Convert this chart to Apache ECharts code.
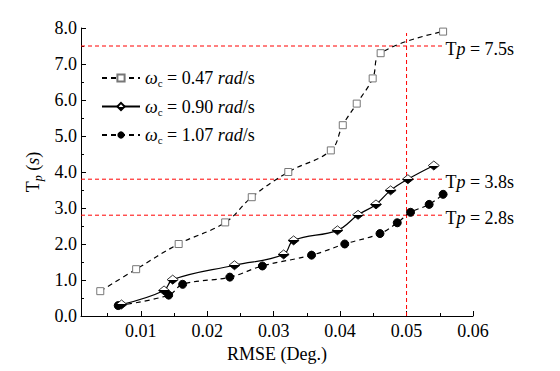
<!DOCTYPE html>
<html><head><meta charset="utf-8">
<script src="https://cdn.jsdelivr.net/npm/echarts@6/dist/echarts.min.js"></script>
<style>html,body{margin:0;padding:0;background:#fff;}#c{width:560px;height:371px;}</style>
</head><body><div id="c"></div>
<script>
// ---- data ----
const seriesNames = ['0.47', '0.90', '1.07'];
const rmse047 = [0.0039, 0.0093, 0.0157, 0.0227, 0.0267, 0.0322, 0.0386, 0.0404, 0.0425, 0.0449, 0.0461, 0.0555];
const tp047   = [0.69, 1.3, 2.0, 2.6, 3.3, 4.0, 4.6, 5.3, 5.9, 6.6, 7.3, 7.9];
const rmse090 = [0.0071, 0.0135, 0.0148, 0.0241, 0.0315, 0.0330, 0.0396, 0.0427, 0.0454, 0.0476, 0.0502, 0.0541];
const tp090   = [0.32, 0.71, 1.01, 1.41, 1.71, 2.1, 2.38, 2.81, 3.1, 3.49, 3.8, 4.18];
const rmse107 = [0.0066, 0.0142, 0.0163, 0.0234, 0.0283, 0.0357, 0.0407, 0.0460, 0.0486, 0.0506, 0.0534, 0.0555];
const tp107   = [0.29, 0.58, 0.88, 1.08, 1.39, 1.69, 2.0, 2.29, 2.59, 2.88, 3.1, 3.38];
const xTicks = [0.01, 0.02, 0.03, 0.04, 0.05, 0.06];
const xMinorTicks = [0.005, 0.015, 0.025, 0.035, 0.045, 0.055];
const refTp = [7.5, 3.8, 2.8];
const refRmse = 0.05;
const refLineEnd = 0.0554;
const refVTop = 7.86;
const xMin = 0.001, xMax = 0.06, yMin = 0, yMax = 8;

const FONT = 'Times New Roman, Liberation Serif, Times, serif';
const zip = (a, b) => a.map((v, i) => [v, b[i]]);

const legRich = {
  w: {fontFamily: FONT, fontSize: 18, fontStyle: 'italic', color: '#000'},
  sub: {fontFamily: FONT, fontSize: 11, color: '#000', verticalAlign: 'bottom', padding: [10, 0, 0, 0]},
  n: {fontFamily: FONT, fontSize: 18, color: '#000'},
  it: {fontFamily: FONT, fontSize: 18, fontStyle: 'italic', color: '#000'}
};
const tpRich = {
  n: {fontFamily: FONT, fontSize: 18, color: '#000'},
  it: {fontFamily: FONT, fontSize: 18, fontStyle: 'italic', color: '#000'}
};

const chart = echarts.init(document.getElementById('c'), null, {renderer: 'svg'});

const refLineStyle = {color: '#f00', width: 1, type: [4, 3]};
const refSeries = refTp.map(t => ({
  name: 'ref' + t, type: 'line', silent: true, symbol: 'none', z: 2,
  lineStyle: refLineStyle, itemStyle: {color: '#f00'},
  data: [[xMin, t], [refLineEnd, t]],
  endLabel: {
    show: true, distance: 3, offset: [0, 3],
    formatter: () => '{n|T}{it|p}{n| = ' + t + 's}', rich: tpRich
  }
}));
refSeries.push({
  name: 'refV', type: 'line', silent: true, symbol: 'none', z: 2,
  lineStyle: refLineStyle, data: [[refRmse, yMin], [refRmse, refVTop]]
});

const option = {
  animation: false,
  backgroundColor: '#fff',
  textStyle: {fontFamily: FONT},
  grid: {left: 81, right: 87, top: 28, bottom: 55},
  legend: {
    orient: 'vertical', left: 96, top: 64, itemWidth: 38, itemHeight: 9, itemGap: 9,
    data: seriesNames.map(n => 'w' + n),
    formatter: name => '{w|ω}{sub|c}{n| = ' + name.slice(1) + ' }{it|rad}{n|/s}',
    textStyle: {rich: legRich, fontFamily: FONT, fontSize: 18, color: '#000'}
  },
  xAxis: [{
    type: 'value', min: xMin, max: xMax,
    name: 'RMSE (Deg.)', nameLocation: 'middle', nameGap: 29,
    nameTextStyle: {fontFamily: FONT, fontSize: 18, color: '#000'},
    axisLine: {show: true, lineStyle: {color: '#000', width: 1}},
    axisTick: {show: true, inside: true, length: 5, customValues: xTicks, lineStyle: {color: '#000'}},
    axisLabel: {customValues: xTicks, formatter: v => v.toFixed(2), fontFamily: FONT, fontSize: 18, color: '#000', margin: 6},
    splitLine: {show: false}
  }, {
    type: 'value', min: xMin, max: xMax, position: 'bottom',
    axisLine: {show: false},
    axisTick: {show: true, inside: true, length: 3, customValues: xMinorTicks, lineStyle: {color: '#000'}},
    axisLabel: {show: false, customValues: xMinorTicks},
    splitLine: {show: false}
  }],
  yAxis: {
    type: 'value', min: yMin, max: yMax, interval: 1,
    name: '{n|T}{sub|p}{n| (}{it|s}{n|)}', nameLocation: 'middle', nameRotate: 90, nameGap: 34,
    nameTextStyle: {fontFamily: FONT, rich: {
      n: {fontFamily: FONT, fontSize: 18, color: '#000'},
      sub: {fontFamily: FONT, fontSize: 12, fontStyle: 'italic', color: '#000', verticalAlign: 'bottom', padding: [10, 0, 0, 0]},
      it: {fontFamily: FONT, fontSize: 18, fontStyle: 'italic', color: '#000'}
    }},
    axisLine: {show: true, lineStyle: {color: '#000', width: 1}},
    axisTick: {show: true, inside: true, length: 5, lineStyle: {color: '#000'}},
    minorTick: {show: true, splitNumber: 2, length: 3, lineStyle: {color: '#000'}},
    axisLabel: {formatter: v => v.toFixed(1), fontFamily: FONT, fontSize: 18, color: '#000', margin: 4},
    splitLine: {show: false}
  },
  series: [
    {
      name: 'w0.47', type: 'line', data: zip(rmse047, tp047), smooth: 0.4,
      symbol: 'rect', symbolSize: 7,
      lineStyle: {color: '#000', width: 1.2, type: [5, 4]},
      itemStyle: {color: '#fff', borderColor: '#777', borderWidth: 1},
      z: 3
    },
    {
      name: 'w0.90', type: 'line', data: zip(rmse090, tp090), smooth: 0.4,
      symbol: 'diamond', symbolSize: [11, 9],
      lineStyle: {color: '#000', width: 1.2, type: 'solid'},
      itemStyle: {
        color: new echarts.graphic.LinearGradient(0, 0, 0, 1, [
          {offset: 0, color: '#fff'}, {offset: 0.5, color: '#fff'},
          {offset: 0.5, color: '#000'}, {offset: 1, color: '#000'}
        ]),
        borderColor: '#000', borderWidth: 0.8
      },
      z: 4
    },
    {
      name: 'w1.07', type: 'line', data: zip(rmse107, tp107), smooth: 0.4,
      symbol: 'circle', symbolSize: 8,
      lineStyle: {color: '#000', width: 1.2, type: [5, 4]},
      itemStyle: {color: '#000', borderColor: '#000'},
      z: 3
    }
  ].concat(refSeries)
};
chart.setOption(option);
</script>
</body></html>
